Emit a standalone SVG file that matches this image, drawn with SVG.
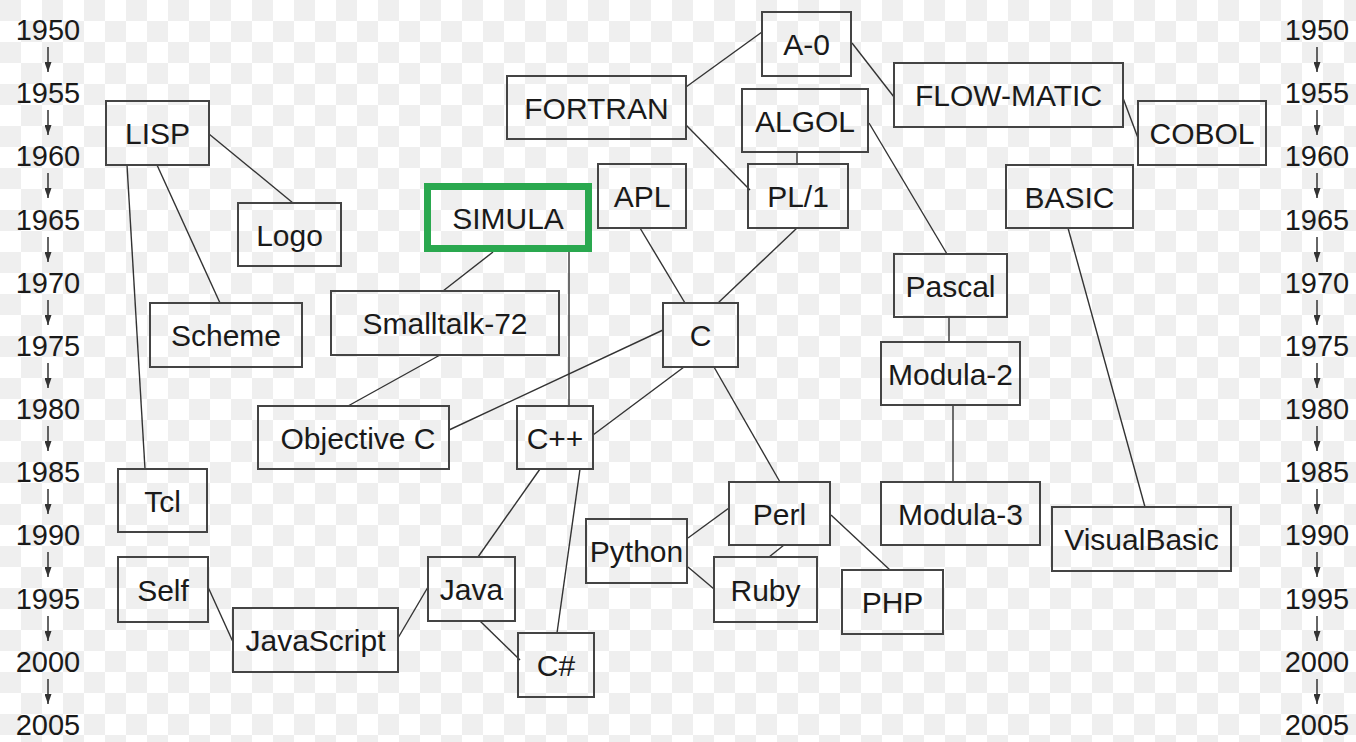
<svg xmlns="http://www.w3.org/2000/svg" width="1356" height="742" viewBox="0 0 1356 742">
<defs>
<pattern id="checker" width="42" height="42" patternUnits="userSpaceOnUse">
<rect width="42" height="42" fill="#ffffff"/>
<rect x="0" y="0" width="21" height="21" fill="#efefef"/>
<rect x="21" y="21" width="21" height="21" fill="#efefef"/>
</pattern>
<marker id="down" markerWidth="7" markerHeight="10" refX="3.5" refY="10" orient="0" markerUnits="userSpaceOnUse" viewBox="0 0 7 10">
<path d="M0,0 L7,0 L3.5,10 Z" fill="#333"/>
</marker>
<style>
.box{fill:none;stroke:#444;stroke-width:2}
.sim{fill:none;stroke:#2aa84f;stroke-width:7}
.lbl{font-family:"Liberation Sans",Arial,sans-serif;font-size:30px;fill:#1a1a1a;text-anchor:middle}
.yr{font-family:"Liberation Sans",Arial,sans-serif;font-size:29px;fill:#1a1a1a;text-anchor:middle}
.ln{stroke:#333;stroke-width:1.4;fill:none}
.ax{stroke:#333;stroke-width:1.5;fill:none;marker-end:url(#down)}
</style>
</defs>
<rect x="0" y="0" width="1356" height="742" fill="url(#checker)"/>

<g id="timeline-left">
<text class="yr" x="48" y="40">1950</text>
<text class="yr" x="48" y="103">1955</text>
<text class="yr" x="48" y="166">1960</text>
<text class="yr" x="48" y="230">1965</text>
<text class="yr" x="48" y="293">1970</text>
<text class="yr" x="48" y="356">1975</text>
<text class="yr" x="48" y="419">1980</text>
<text class="yr" x="48" y="482">1985</text>
<text class="yr" x="48" y="545">1990</text>
<text class="yr" x="48" y="609">1995</text>
<text class="yr" x="48" y="672">2000</text>
<text class="yr" x="48" y="735">2005</text>
<line class="ax" x1="48" y1="47" x2="48" y2="72"/>
<line class="ax" x1="48" y1="110" x2="48" y2="135"/>
<line class="ax" x1="48" y1="173" x2="48" y2="198"/>
<line class="ax" x1="48" y1="237" x2="48" y2="262"/>
<line class="ax" x1="48" y1="300" x2="48" y2="325"/>
<line class="ax" x1="48" y1="363" x2="48" y2="388"/>
<line class="ax" x1="48" y1="426" x2="48" y2="451"/>
<line class="ax" x1="48" y1="489" x2="48" y2="514"/>
<line class="ax" x1="48" y1="552" x2="48" y2="577"/>
<line class="ax" x1="48" y1="616" x2="48" y2="641"/>
<line class="ax" x1="48" y1="679" x2="48" y2="704"/>
</g>
<g id="timeline-right">
<text class="yr" x="1317" y="40">1950</text>
<text class="yr" x="1317" y="103">1955</text>
<text class="yr" x="1317" y="166">1960</text>
<text class="yr" x="1317" y="230">1965</text>
<text class="yr" x="1317" y="293">1970</text>
<text class="yr" x="1317" y="356">1975</text>
<text class="yr" x="1317" y="419">1980</text>
<text class="yr" x="1317" y="482">1985</text>
<text class="yr" x="1317" y="545">1990</text>
<text class="yr" x="1317" y="609">1995</text>
<text class="yr" x="1317" y="672">2000</text>
<text class="yr" x="1317" y="735">2005</text>
<line class="ax" x1="1317" y1="47" x2="1317" y2="72"/>
<line class="ax" x1="1317" y1="110" x2="1317" y2="135"/>
<line class="ax" x1="1317" y1="173" x2="1317" y2="198"/>
<line class="ax" x1="1317" y1="237" x2="1317" y2="262"/>
<line class="ax" x1="1317" y1="300" x2="1317" y2="325"/>
<line class="ax" x1="1317" y1="363" x2="1317" y2="388"/>
<line class="ax" x1="1317" y1="426" x2="1317" y2="451"/>
<line class="ax" x1="1317" y1="489" x2="1317" y2="514"/>
<line class="ax" x1="1317" y1="552" x2="1317" y2="577"/>
<line class="ax" x1="1317" y1="616" x2="1317" y2="641"/>
<line class="ax" x1="1317" y1="679" x2="1317" y2="704"/>
</g>

<g id="connectors">
<line class="ln" x1="686" y1="87" x2="762" y2="32"/>
<line class="ln" x1="852" y1="43" x2="894" y2="97"/>
<line class="ln" x1="686" y1="125" x2="750" y2="190"/>
<line class="ln" x1="797" y1="152" x2="797" y2="164"/>
<line class="ln" x1="869" y1="123" x2="947" y2="254"/>
<line class="ln" x1="1123" y1="98" x2="1138" y2="138"/>
<line class="ln" x1="209" y1="134" x2="293" y2="203"/>
<line class="ln" x1="157" y1="165" x2="220" y2="303"/>
<line class="ln" x1="127" y1="165" x2="145" y2="469"/>
<line class="ln" x1="493" y1="252" x2="443" y2="291"/>
<line class="ln" x1="569" y1="252" x2="569" y2="406"/>
<line class="ln" x1="440" y1="355" x2="348" y2="406"/>
<line class="ln" x1="663" y1="330" x2="449" y2="430"/>
<line class="ln" x1="640" y1="228" x2="685" y2="303"/>
<line class="ln" x1="797" y1="228" x2="718" y2="303"/>
<line class="ln" x1="684" y1="367" x2="593" y2="435"/>
<line class="ln" x1="714" y1="367" x2="780" y2="482"/>
<line class="ln" x1="540" y1="469" x2="478" y2="557"/>
<line class="ln" x1="580" y1="469" x2="557" y2="633"/>
<line class="ln" x1="480" y1="621" x2="520" y2="660"/>
<line class="ln" x1="398" y1="638" x2="428" y2="587"/>
<line class="ln" x1="208" y1="587" x2="233" y2="642"/>
<line class="ln" x1="688" y1="538" x2="729" y2="508"/>
<line class="ln" x1="688" y1="567" x2="714" y2="589"/>
<line class="ln" x1="784" y1="545" x2="769" y2="557"/>
<line class="ln" x1="831" y1="515" x2="890" y2="570"/>
<line class="ln" x1="949" y1="317" x2="949" y2="342"/>
<line class="ln" x1="953" y1="405" x2="953" y2="482"/>
<line class="ln" x1="1068" y1="228" x2="1145" y2="507"/>
</g>

<g id="node-a0"><rect class="box" x="762" y="12" width="89" height="64"/><text class="lbl" x="806.5" y="55">A-0</text></g>
<g id="node-fortran"><rect class="box" x="507" y="76" width="179" height="63"/><text class="lbl" x="596.5" y="118.5">FORTRAN</text></g>
<g id="node-flowmatic"><rect class="box" x="894" y="63" width="229" height="64"/><text class="lbl" x="1008.5" y="106">FLOW-MATIC</text></g>
<g id="node-algol"><rect class="box" x="742" y="89" width="126" height="63"/><text class="lbl" x="805" y="131.5">ALGOL</text></g>
<g id="node-cobol"><rect class="box" x="1138" y="101" width="128" height="64"/><text class="lbl" x="1202" y="144">COBOL</text></g>
<g id="node-lisp"><rect class="box" x="106" y="101" width="103" height="64"/><text class="lbl" x="157.5" y="144">LISP</text></g>
<g id="node-apl"><rect class="box" x="598" y="164" width="88" height="64"/><text class="lbl" x="642" y="207">APL</text></g>
<g id="node-pl1"><rect class="box" x="748" y="164" width="100" height="64"/><text class="lbl" x="798" y="207">PL/1</text></g>
<g id="node-basic"><rect class="box" x="1006" y="165" width="127" height="63"/><text class="lbl" x="1069.5" y="207.5">BASIC</text></g>
<g id="node-logo"><rect class="box" x="238" y="203" width="103" height="63"/><text class="lbl" x="289.5" y="245.5">Logo</text></g>
<g id="node-simula"><rect class="sim" x="427.5" y="186.5" width="161" height="62"/><text class="lbl" x="508" y="228.5">SIMULA</text></g>
<g id="node-pascal"><rect class="box" x="894" y="254" width="113" height="63"/><text class="lbl" x="950.5" y="296.5">Pascal</text></g>
<g id="node-smalltalk"><rect class="box" x="331" y="291" width="228" height="64"/><text class="lbl" x="445" y="334">Smalltalk-72</text></g>
<g id="node-scheme"><rect class="box" x="150" y="303" width="152" height="64"/><text class="lbl" x="226" y="346">Scheme</text></g>
<g id="node-c"><rect class="box" x="663" y="303" width="75" height="64"/><text class="lbl" x="700.5" y="346">C</text></g>
<g id="node-modula2"><rect class="box" x="881" y="342" width="139" height="63"/><text class="lbl" x="950.5" y="384.5">Modula-2</text></g>
<g id="node-objc"><rect class="box" x="258" y="406" width="191" height="63"/><text class="lbl" x="358" y="448.5">Objective C</text></g>
<g id="node-cpp"><rect class="box" x="517" y="406" width="76" height="63"/><text class="lbl" x="555" y="448.5">C++</text></g>
<g id="node-tcl"><rect class="box" x="118" y="469" width="89" height="63"/><text class="lbl" x="162.5" y="511.5">Tcl</text></g>
<g id="node-perl"><rect class="box" x="729" y="482" width="101" height="63"/><text class="lbl" x="779.5" y="524.5">Perl</text></g>
<g id="node-modula3"><rect class="box" x="881" y="482" width="159" height="63"/><text class="lbl" x="960.5" y="524.5">Modula-3</text></g>
<g id="node-visualbasic"><rect class="box" x="1052" y="507" width="179" height="64"/><text class="lbl" x="1141.5" y="550">VisualBasic</text></g>
<g id="node-python"><rect class="box" x="586" y="519" width="101" height="64"/><text class="lbl" x="636.5" y="562">Python</text></g>
<g id="node-ruby"><rect class="box" x="714" y="557" width="103" height="65"/><text class="lbl" x="765.5" y="600.5">Ruby</text></g>
<g id="node-self"><rect class="box" x="118" y="557" width="90" height="65"/><text class="lbl" x="163" y="600.5">Self</text></g>
<g id="node-java"><rect class="box" x="428" y="557" width="87" height="64"/><text class="lbl" x="471.5" y="600">Java</text></g>
<g id="node-php"><rect class="box" x="842" y="570" width="101" height="64"/><text class="lbl" x="892.5" y="613">PHP</text></g>
<g id="node-javascript"><rect class="box" x="233" y="608" width="165" height="64"/><text class="lbl" x="315.5" y="651">JavaScript</text></g>
<g id="node-csharp"><rect class="box" x="518" y="633" width="76" height="64"/><text class="lbl" x="556" y="676">C#</text></g>
</svg>
